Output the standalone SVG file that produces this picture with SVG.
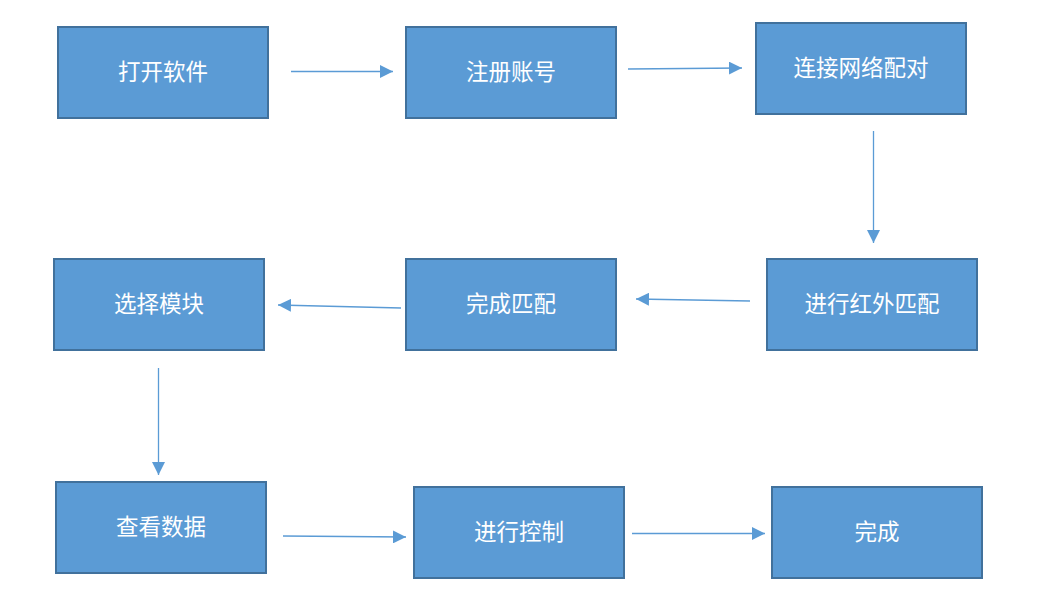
<svg xmlns="http://www.w3.org/2000/svg" width="1055" height="614" viewBox="0 0 1055 614">
<style>
.box{fill:#5B9BD5;stroke:#41719C;stroke-width:2}
.lbl{fill:#FFFFFF;font-family:"Noto Sans CJK SC","Liberation Sans",sans-serif;font-size:22.5px;text-anchor:middle;dominant-baseline:central}
.conn{stroke:#5B9BD5;stroke-width:1.3;fill:none;marker-end:url(#ah)}
</style>
<defs>
<marker id="ah" markerUnits="userSpaceOnUse" markerWidth="13" markerHeight="13" refX="13" refY="6.5" orient="auto">
<path d="M0,0 L13,6.5 L0,13 z" fill="#5B9BD5"/>
</marker>
</defs>
<rect width="1055" height="614" fill="#FFFFFF"/>
<g id="n1"><rect class="box" x="58" y="27" width="210" height="91"/><text class="lbl" x="163" y="69.5">打开软件</text></g>
<g id="n2"><rect class="box" x="406" y="27" width="210" height="91"/><text class="lbl" x="511" y="69.5">注册账号</text></g>
<g id="n3"><rect class="box" x="756" y="23" width="210" height="91"/><text class="lbl" x="861" y="65.5">连接网络配对</text></g>
<g id="n4"><rect class="box" x="767" y="259" width="210" height="91"/><text class="lbl" x="872" y="301.5">进行红外匹配</text></g>
<g id="n5"><rect class="box" x="406" y="259" width="210" height="91"/><text class="lbl" x="511" y="301.5">完成匹配</text></g>
<g id="n6"><rect class="box" x="54" y="259" width="210" height="91"/><text class="lbl" x="159" y="301.5">选择模块</text></g>
<g id="n7"><rect class="box" x="56" y="482" width="210" height="91"/><text class="lbl" x="161" y="524.5">查看数据</text></g>
<g id="n8"><rect class="box" x="414" y="487" width="210" height="91"/><text class="lbl" x="519" y="529.5">进行控制</text></g>
<g id="n9"><rect class="box" x="772" y="487" width="210" height="91"/><text class="lbl" x="877" y="529.5">完成</text></g>
<g id="connectors">
<line class="conn" x1="291" y1="71.5" x2="393" y2="71.5"/>
<line class="conn" x1="628" y1="69" x2="742" y2="68"/>
<line class="conn" x1="873.5" y1="131" x2="873.5" y2="243"/>
<line class="conn" x1="750" y1="301" x2="636" y2="299"/>
<line class="conn" x1="401" y1="308" x2="278" y2="305"/>
<line class="conn" x1="158.5" y1="368" x2="158.5" y2="475"/>
<line class="conn" x1="283" y1="536" x2="406" y2="537"/>
<line class="conn" x1="632" y1="533.5" x2="765" y2="533.5"/>
</g>
</svg>
